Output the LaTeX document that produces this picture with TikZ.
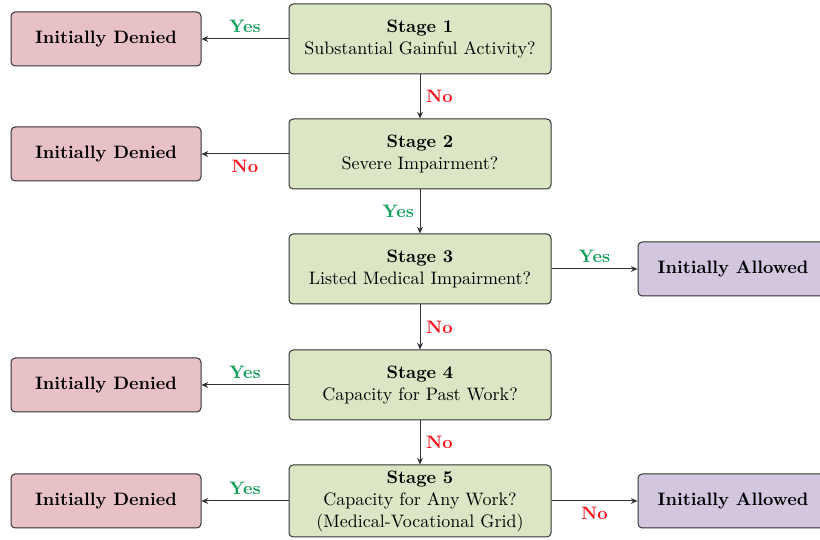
\documentclass[tikz,border=0pt]{standalone}
\usetikzlibrary{arrows.meta}
\definecolor{stagefill}{RGB}{218,230,196}
\definecolor{denyfill}{RGB}{232,193,198}
\definecolor{allowfill}{RGB}{211,198,223}
\definecolor{yesgreen}{RGB}{22,160,90}
\definecolor{nored}{RGB}{250,20,30}
\definecolor{edgegray}{RGB}{50,50,50}
\begin{document}
\begin{tikzpicture}[x=0.6pt,y=-0.6pt,
  every node/.style={font=\fontsize{10.8}{13.5}\selectfont},
  stagebox/.style={draw=edgegray, line width=0.6pt, fill=stagefill, rounded corners=2.5pt,
    minimum width=157.2pt, minimum height=42pt, align=center, inner sep=2pt},
  denybox/.style={draw=edgegray, line width=0.6pt, fill=denyfill, rounded corners=2.5pt,
    minimum width=114pt, minimum height=32.4pt, font=\fontsize{10.8}{13.5}\selectfont\bfseries},
  allowbox/.style={draw=edgegray, line width=0.6pt, fill=allowfill, rounded corners=2.5pt,
    minimum width=114pt, minimum height=32.4pt, font=\fontsize{10.8}{13.5}\selectfont\bfseries},
  conn/.style={draw=edgegray, line width=0.6pt, -{Stealth[length=4pt,width=3.5pt]}},
  yeslab/.style={text=yesgreen, font=\fontsize{10.8}{13.5}\selectfont\bfseries},
  nolab/.style={text=nored, font=\fontsize{10.8}{13.5}\selectfont\bfseries}]
\useasboundingbox (0,0) rectangle (820,540);
\node[stagebox] (s1) at (420,39) {\textbf{Stage 1}\\Substantial Gainful Activity?};
\node[stagebox] (s2) at (420,154) {\textbf{Stage 2}\\Severe Impairment?};
\node[stagebox] (s3) at (420,269) {\textbf{Stage 3}\\Listed Medical Impairment?};
\node[stagebox] (s4) at (420,385) {\textbf{Stage 4}\\Capacity for Past Work?};
\node[stagebox, minimum height=43.2pt, font=\fontsize{10.8}{13.2}\selectfont] (s5) at (420,501) {\textbf{Stage 5}\\Capacity for Any Work?\\(Medical-Vocational Grid)};
\node[denybox] (d1) at (106,39) {Initially Denied};
\node[denybox] (d2) at (106,154) {Initially Denied};
\node[denybox] (d4) at (106,385) {Initially Denied};
\node[denybox] (d5) at (106,501) {Initially Denied};
\node[allowbox] (a3) at (733,269) {Initially Allowed};
\node[allowbox] (a5) at (733,501) {Initially Allowed};
\draw[conn] (s1) -- node[yeslab, above] {Yes} (d1);
\draw[conn] (s1) -- node[nolab, right] {No} (s2);
\draw[conn] (s2) -- node[nolab, below] {No} (d2);
\draw[conn] (s2) -- node[yeslab, left] {Yes} (s3);
\draw[conn] (s3) -- node[yeslab, above] {Yes} (a3);
\draw[conn] (s3) -- node[nolab, right] {No} (s4);
\draw[conn] (s4) -- node[yeslab, above] {Yes} (d4);
\draw[conn] (s4) -- node[nolab, right] {No} (s5);
\draw[conn] (s5) -- node[yeslab, above] {Yes} (d5);
\draw[conn] (s5) -- node[nolab, below] {No} (a5);
\end{tikzpicture}
\end{document}
